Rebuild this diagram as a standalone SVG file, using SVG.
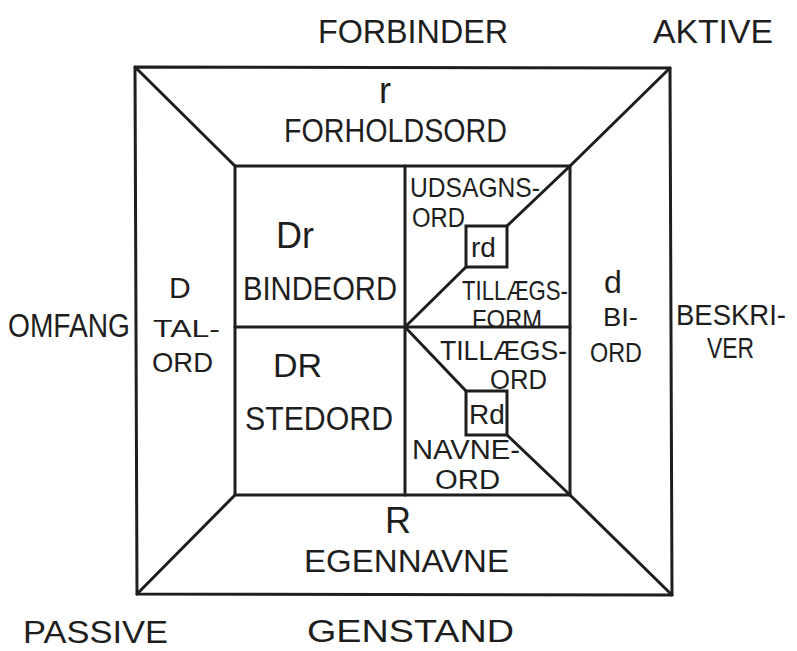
<svg xmlns="http://www.w3.org/2000/svg" width="797" height="651" viewBox="0 0 797 651">
<style>
.ln{stroke:#1e1e1e;stroke-width:3;fill:none;stroke-linecap:round;stroke-linejoin:round}
.bx{stroke:#1e1e1e;stroke-width:3;fill:#fff}
text{font-family:"Liberation Sans",Arial,sans-serif;fill:#1e1e1e}
</style>
<rect width="797" height="651" fill="#fff"/>
<g id="connectors">
<polygon class="ln" points="135,67 670,68 672,595 137,594"/>
<rect class="ln" x="235" y="166" width="335" height="329"/>
<line class="ln" x1="135" y1="67" x2="235" y2="166"/>
<line class="ln" x1="670" y1="68" x2="570" y2="166"/>
<line class="ln" x1="137" y1="594" x2="235" y2="495"/>
<line class="ln" x1="672" y1="595" x2="570" y2="495"/>
<line class="ln" x1="405" y1="166" x2="405" y2="495"/>
<line class="ln" x1="235" y1="327" x2="570" y2="327"/>
<line class="ln" x1="570" y1="166" x2="507" y2="226"/>
<line class="ln" x1="466" y1="267" x2="405" y2="327"/>
<line class="ln" x1="405" y1="327" x2="466" y2="391"/>
<line class="ln" x1="507" y1="435" x2="570" y2="495"/>
</g>
<g id="corner-labels">
<text x="318" y="43" font-size="34" textLength="190" lengthAdjust="spacingAndGlyphs">FORBINDER</text>
<text x="653" y="43" font-size="34" textLength="120" lengthAdjust="spacingAndGlyphs">AKTIVE</text>
<text x="8" y="337" font-size="34" textLength="122" lengthAdjust="spacingAndGlyphs">OMFANG</text>
<text x="676" y="325" font-size="29" textLength="110" lengthAdjust="spacingAndGlyphs">BESKRI-</text>
<text x="707" y="358" font-size="29" textLength="47" lengthAdjust="spacingAndGlyphs">VER</text>
<text x="23" y="643" font-size="32" textLength="145" lengthAdjust="spacingAndGlyphs">PASSIVE</text>
<text x="307" y="642" font-size="32" textLength="207" lengthAdjust="spacingAndGlyphs">GENSTAND</text>
</g>
<g id="forholdsord">
<text x="379" y="103" font-size="36">r</text>
<text x="284" y="142" font-size="34" textLength="223" lengthAdjust="spacingAndGlyphs">FORHOLDSORD</text>
</g>
<g id="talord">
<text x="169" y="298" font-size="30">D</text>
<text x="153" y="337" font-size="24" textLength="67" lengthAdjust="spacingAndGlyphs">TAL-</text>
<text x="152" y="372" font-size="28" textLength="61" lengthAdjust="spacingAndGlyphs">ORD</text>
</g>
<g id="biord">
<text x="604" y="293" font-size="32">d</text>
<text x="603" y="326" font-size="25" textLength="35" lengthAdjust="spacingAndGlyphs">BI-</text>
<text x="590" y="362" font-size="28" textLength="52" lengthAdjust="spacingAndGlyphs">ORD</text>
</g>
<g id="egennavne">
<text x="385" y="533" font-size="36">R</text>
<text x="304" y="572" font-size="32" textLength="205" lengthAdjust="spacingAndGlyphs">EGENNAVNE</text>
</g>
<g id="bindeord">
<text x="276" y="248" font-size="36">Dr</text>
<text x="243" y="300" font-size="34" textLength="154" lengthAdjust="spacingAndGlyphs">BINDEORD</text>
</g>
<g id="stedord">
<text x="273" y="377" font-size="34">DR</text>
<text x="245" y="430" font-size="33" textLength="148" lengthAdjust="spacingAndGlyphs">STEDORD</text>
</g>
<g id="udsagnsord">
<text x="410" y="197" font-size="27" textLength="130" lengthAdjust="spacingAndGlyphs">UDSAGNS-</text>
<text x="412" y="227" font-size="27" textLength="53" lengthAdjust="spacingAndGlyphs">ORD</text>
</g>
<g id="box-rd">
<rect class="bx" x="466" y="226" width="41" height="41"/>
<text x="471" y="257" font-size="28">rd</text>
</g>
<g id="tillaegsform">
<text x="462" y="300" font-size="28" textLength="106" lengthAdjust="spacingAndGlyphs">TILLÆGS-</text>
<text x="472" y="328" font-size="26" textLength="70" lengthAdjust="spacingAndGlyphs">FORM</text>
</g>
<g id="tillaegsord">
<text x="440" y="360" font-size="28" textLength="127" lengthAdjust="spacingAndGlyphs">TILLÆGS-</text>
<text x="490" y="389" font-size="27" textLength="57" lengthAdjust="spacingAndGlyphs">ORD</text>
</g>
<g id="box-Rd">
<rect class="bx" x="466" y="391" width="41" height="44"/>
<text x="469" y="424" font-size="28">Rd</text>
</g>
<g id="navneord">
<text x="412" y="459" font-size="28" textLength="108" lengthAdjust="spacingAndGlyphs">NAVNE-</text>
<text x="435" y="489" font-size="27" textLength="65" lengthAdjust="spacingAndGlyphs">ORD</text>
</g>
</svg>
